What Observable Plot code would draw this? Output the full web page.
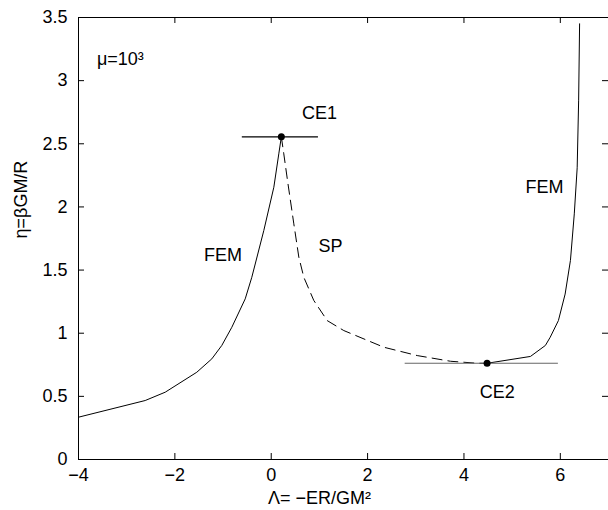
<!DOCTYPE html>
<html>
<head>
<meta charset="utf-8">
<script src="https://cdn.jsdelivr.net/npm/d3@7"></script>
<script src="https://cdn.jsdelivr.net/npm/@observablehq/plot@0.6"></script>
<style>
  html, body { margin: 0; padding: 0; background: white; }
</style>
</head>
<body>
<div id="chart"></div>
<script>
// Ticks
const xTicks = [-4, -2, 0, 2, 4, 6];
const yTicks = [0, 0.5, 1, 1.5, 2, 2.5, 3, 3.5];

// FEM branch (left, solid)
const femLeftX = [-4, -2.616, -2.20, -1.545, -1.233, -1.026, -0.818, -0.540, -0.403, -0.154, 0.054, 0.157, 0.21];
const femLeftY = [0.335, 0.467, 0.533, 0.691, 0.797, 0.903, 1.047, 1.272, 1.443, 1.813, 2.156, 2.420, 2.555];

// SP branch (dashed)
const spX = [0.21, 0.261, 0.338, 0.469, 0.573, 0.676, 0.884, 1.162, 1.506, 2.337, 3.030, 3.721, 4.275, 4.48];
const spY = [2.555, 2.420, 2.209, 1.866, 1.602, 1.443, 1.259, 1.100, 1.021, 0.889, 0.823, 0.778, 0.762, 0.762];

// FEM branch (right, solid)
const femRightX = [4.48, 5.38, 5.69, 5.79, 5.96, 6.10, 6.21, 6.29, 6.35, 6.38, 6.40];
const femRightY = [0.762, 0.816, 0.903, 0.968, 1.10, 1.31, 1.576, 1.945, 2.31, 2.84, 3.45];

// Critical points and their tangent lines
const ceNames = ["CE1", "CE2"];
const ceX = [0.21, 4.48];
const ceY = [2.555, 0.762];
const ceLineX1 = [-0.6, 2.78];
const ceLineX2 = [0.98, 5.96];

// Annotations
const labelText = ["μ=10³", "CE1", "FEM", "SP", "FEM", "CE2"];
const labelX = [-3.13, 1.0, -1.0, 1.23, 5.67, 4.69];
const labelY = [3.17, 2.745, 1.62, 1.69, 2.156, 0.534];
const labelAnchor = ["start", "middle", "middle", "middle", "middle", "middle"];

const toPts = (xs, ys) => xs.map((x, i) => ({x, y: ys[i]}));
const femLeft = toPts(femLeftX, femLeftY);
const sp = toPts(spX, spY);
const femRight = toPts(femRightX, femRightY);
const ce = ceNames.map((n, i) => ({n, x: ceX[i], y: ceY[i], x1: ceLineX1[i], x2: ceLineX2[i]}));
const labels = labelText.map((t, i) => ({t, x: labelX[i], y: labelY[i], a: labelAnchor[i]}));

const W = 608, H = 510, mL = 78, mR = 0, mT = 17, mB = 51;
const fw = W - mL - mR, fh = H - mT - mB, tk = 6;
const fmt = d => (d < 0 ? "\u2212" + Math.abs(d) : String(d));
const FS = 18;

const chart = Plot.plot({
  width: W, height: H,
  marginLeft: mL, marginRight: mR, marginTop: mT, marginBottom: mB,
  x: {domain: [-4, 7]},
  y: {domain: [0, 3.5]},
  style: {fontFamily: "'Liberation Sans', Arial, Helvetica, sans-serif", fontSize: FS + "px", background: "white", color: "black", overflow: "visible"},
  marks: [
    // inward ticks on all four sides
    Plot.ruleX(xTicks, {x: d => d, insetTop: fh - tk, stroke: "black"}),
    Plot.ruleX(xTicks, {x: d => d, insetBottom: fh - tk, stroke: "black"}),
    Plot.ruleY(yTicks, {y: d => d, insetRight: fw - tk, stroke: "black"}),
    Plot.ruleY(yTicks, {y: d => d, insetLeft: fw - tk, stroke: "black"}),
    Plot.axisX(xTicks, {anchor: "bottom", tickSize: 0, tickPadding: 9, tickFormat: fmt, label: null, fontSize: FS}),
    Plot.axisY(yTicks, {anchor: "left", tickSize: 0, tickPadding: 11, tickFormat: fmt, label: null, fontSize: FS}),
    Plot.frame({stroke: "black"}),
    // curves
    Plot.line(femLeft, {x: "x", y: "y", stroke: "black", strokeWidth: 1}),
    Plot.line(sp, {x: "x", y: "y", stroke: "black", strokeWidth: 1, strokeDasharray: "10,6"}),
    Plot.line(femRight, {x: "x", y: "y", stroke: "black", strokeWidth: 1}),
    // tangent lines at CE points
    Plot.ruleY(ce, {y: "y", x1: "x1", x2: "x2", stroke: (d, i) => i === 0 ? "black" : "#666", strokeWidth: 1.2}),
    Plot.dot(ce, {x: "x", y: "y", r: 3.5, fill: "black", stroke: "none"}),
    // annotations
    Plot.text(labels, {x: "x", y: "y", text: "t", textAnchor: "a", fontSize: FS, fill: "black"}),
    // axis titles
    Plot.text(["Λ= \u2212ER/GM²"], {x: 1.0, frameAnchor: "bottom", dy: 44, fontSize: FS, fill: "black"}),
    Plot.text(["η=βGM/R"], {frameAnchor: "left", dx: -57, rotate: -90, fontSize: FS, fill: "black"})
  ]
});
document.getElementById("chart").appendChild(chart);
</script>
</body>
</html>
